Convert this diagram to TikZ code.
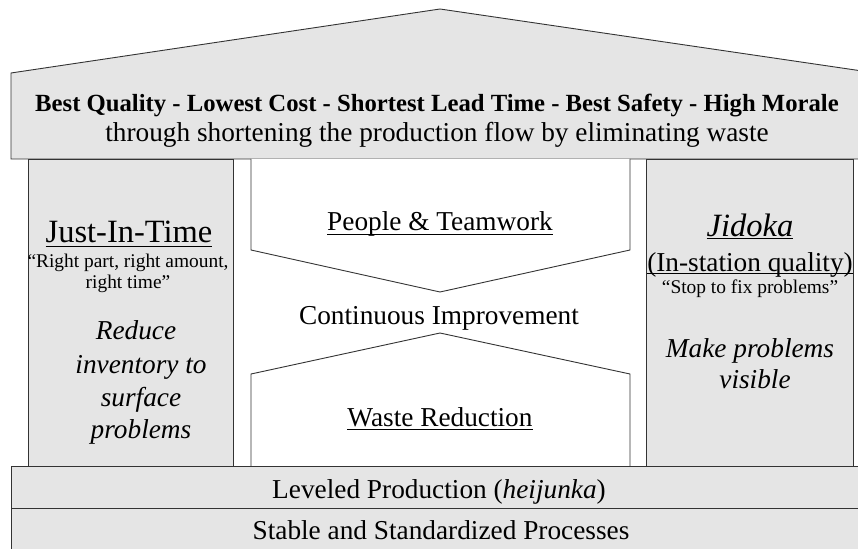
\documentclass[tikz,border=0pt]{standalone}
\usepackage{fontspec}
\setmainfont{Liberation Serif}
\tikzset{
  frame/.style={draw=black!80, line width=0.9pt, line join=miter},
  grayfill/.style={frame, fill=black!10},
  whitefill/.style={frame, fill=white},
  txt/.style={anchor=base, inner sep=0pt, align=center, text=black},
  big/.style={font=\fontsize{27.3}{33}\selectfont},
  title/.style={font=\fontsize{32.5}{38}\selectfont},
  quote/.style={font=\fontsize{19.4}{23}\selectfont},
  bigit/.style={font=\itshape\fontsize{27.3}{33}\selectfont},
}
\newcommand\myul[2]{\setbox0\hbox{#2}\rlap{\rule[-#1]{\wd0}{0.9pt}}\box0}
\begin{document}
\begin{tikzpicture}[x=1pt, y=-1pt]
\useasboundingbox (0,0) rectangle (858,548);
\clip (0,0) rectangle (858,548);
% roof and goal box
\draw[grayfill] (11,159) -- (11,73) -- (440,9) -- (869,72) -- (869,159) -- cycle;
% pillars
\draw[grayfill] (28,159) rectangle (233,466);
\draw[grayfill] (646,159) rectangle (853,466);
% middle shapes
\draw[whitefill] (251,159) -- (251,250) -- (440,292) -- (630,250) -- (630,159);
\draw[whitefill] (251,466) -- (251,374) -- (440,333) -- (630,374) -- (630,466);
% foundation bands
\draw[grayfill] (11,466) rectangle (869,508);
\draw[grayfill] (11,508) rectangle (869,560);

% roof texts
\node[txt, font=\bfseries\fontsize{24.7}{30}\selectfont] (goal) at (437,112)
  {Best Quality - Lowest Cost - Shortest Lead Time - Best Safety - High Morale};
\node[txt, big] (through) at (437,142)
  {through shortening the production flow by eliminating waste};

% left pillar
\node[txt, title] (jit) at (129,242) {\myul{5pt}{Just-In-Time}};
\node[txt, quote] (jitq1) at (128,267) {“Right part, right amount,};
\node[txt, quote] (jitq2) at (128,288) {right time”};
\node[txt, bigit] (red1) at (136,339) {Reduce};
\node[txt, bigit] (red2) at (141,373) {inventory to};
\node[txt, bigit] (red3) at (141,406) {surface};
\node[txt, bigit] (red4) at (141,438) {problems};

% right pillar
\node[txt, title] (jid) at (750,236) {\myul{2.5pt}{\itshape Jidoka}};
\node[txt, big] (insta) at (750,271) {\myul{3pt}{(In-station quality)}};
\node[txt, quote] (stop) at (750,293) {“Stop to fix problems”};
\node[txt, bigit] (mk1) at (750,357) {Make problems};
\node[txt, bigit] (mk2) at (755,388) {visible};

% middle
\node[txt, big] (people) at (440,230) {\myul{5pt}{People \& Teamwork}};
\node[txt, big] (ci) at (439,324) {Continuous Improvement};
\node[txt, big] (waste) at (440,426) {\myul{4pt}{Waste Reduction}};

% foundation
\node[txt, big] (level) at (439,498) {Leveled Production (\textit{heijunka})};
\node[txt, big] (stable) at (441,539) {Stable and Standardized Processes};
\end{tikzpicture}
\end{document}
